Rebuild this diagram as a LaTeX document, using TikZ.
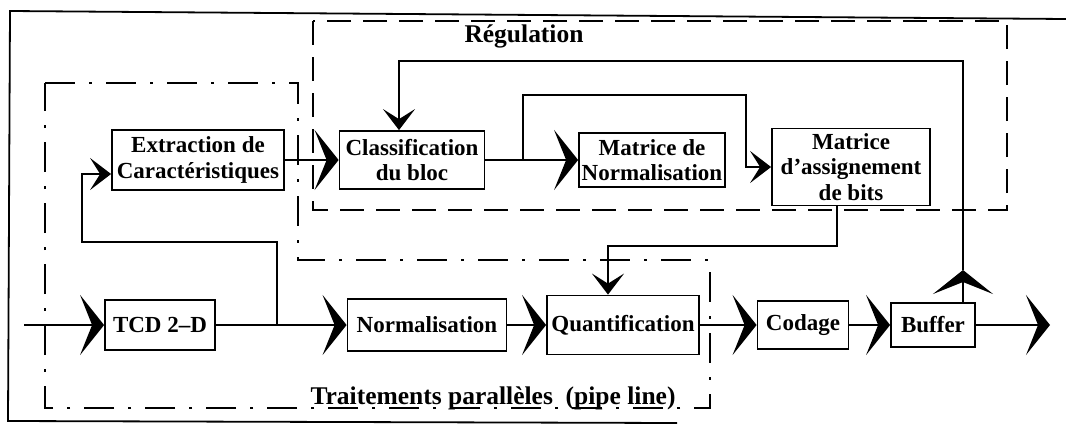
\documentclass[tikz,border=0pt]{standalone}
\usepackage{fontspec}
\setmainfont{Liberation Serif}
\usetikzlibrary{arrows.meta}

\begin{document}
\begin{tikzpicture}[x=1pt,y=-1pt]
        \tikzstyle{every node}=[font=\bfseries\fontsize{23}{25.5}\selectfont]
        \tikzstyle{bloc}=[draw,line width=1.8pt,align=center,inner sep=2pt]
        \tikzstyle{fleche}=[line width=1.8pt,-{Stealth[length=24pt,width=60pt,inset=12pt]}]
        \tikzstyle{petite}=[line width=1.8pt,-{Stealth[length=21pt,width=32pt,inset=10pt]}]
        \tikzstyle{titre}=[font=\bfseries\fontsize{25.5}{28}\selectfont]
        \useasboundingbox (0,0) rectangle (1066,426);

        % cadre
        \draw[line width=1.8pt] (1066,19) -- (10,11) -- (8,421) -- (677,423);
        % regulation
        \draw[line width=1.5pt,dash pattern=on 24pt off 12pt] (313,21) rectangle (1007,210);
        \node[titre] (reg) at (524,36) {Régulation};
        % traitements paralleles
        \draw[line width=1.5pt,dash pattern=on 30pt off 14pt on 3pt off 14pt] (45,83) -- (298,83) -- (298,260) -- (710,260) -- (710,408) -- (45,408) -- cycle;
        \node[titre,anchor=base] (trait) at (493,404) {Traitements parallèles\ \ (pipe line)};

        \node[bloc,minimum width=172pt,minimum height=60pt] (extr) at (198,160) {Extraction de\\Caractéristiques};
        \node[bloc,minimum width=145pt,minimum height=58pt] (clas) at (412,160) {Classification\\du bloc};
        \node[bloc,minimum width=146pt,minimum height=54pt] (matn) at (652,160) {Matrice de\\Normalisation};
        \node[bloc,minimum width=158pt,minimum height=77pt] (assi) at (851,167) {Matrice\\d'assignement\\de bits};
        \node[bloc,minimum width=110pt,minimum height=50pt] (tcd) at (160,325) {TCD 2--D};
        \node[bloc,minimum width=159pt,minimum height=52pt] (norm) at (427,325) {Normalisation};
        \node[bloc,minimum width=152pt,minimum height=59pt] (quan) at (623,325) {Quantification};
        \node[bloc,minimum width=91pt,minimum height=48pt] (coda) at (803,325) {Codage};
        \node[bloc,minimum width=84pt,minimum height=44pt] (buff) at (933,325) {Buffer};

        \coordinate (entree) at (24,325);
        \coordinate (sortie) at (1050,325);
        \coordinate (b1) at (277,325);
        \coordinate (b2) at (82,242);
        \coordinate (b3) at (523,160);
        \coordinate (b4) at (746,95);
        \coordinate (f1) at (963,270);
        \coordinate (f2) at (963,61);
        \coordinate (q1) at (837,246);

        \draw[fleche] (entree) -- (tcd);
        \draw[fleche] (tcd) -- (norm);
        \draw[petite] (b1) |- (b2) |- ([yshift=-14pt]extr.west);
        \draw[fleche] (extr) -- (clas);
        \draw[fleche] (clas) -- (matn);
        \draw[petite] (b3) |- (b4) |- (assi.west);
        % retour du buffer
        \draw[fleche] ([xshift=30pt]buff.north) -- (f1);
        \draw[petite] (f1) -- (f2) -| ([xshift=-13pt]clas.north);
        \draw[petite] ([xshift=-14pt]assi.south) |- (q1) -| ([xshift=-15pt]quan.north);
        \draw[fleche] (norm) -- (quan);
        \draw[fleche] (quan) -- (coda);
        \draw[fleche] (coda) -- (buff);
        \draw[fleche] (buff) -- (sortie);
\end{tikzpicture}
\end{document}
